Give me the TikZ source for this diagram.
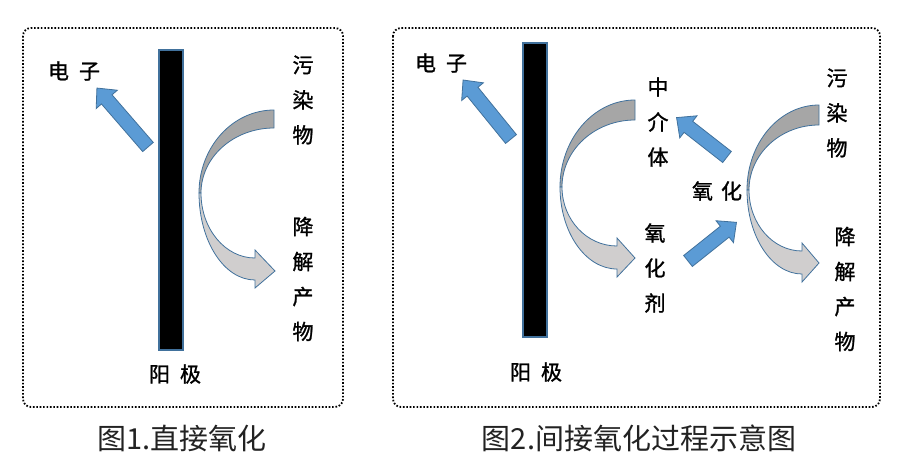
\documentclass[tikz,border=0pt]{standalone}
\usepackage{fontspec}
\newfontfamily\cjk{Noto Sans CJK SC}
\newfontfamily\cjkb{Noto Sans CJK SC}[FakeBold=1.2]
\definecolor{bluefill}{HTML}{5B9BD5}
\definecolor{blueline}{HTML}{41719C}
\definecolor{graytop}{HTML}{A6A6A6}
\definecolor{graybot}{HTML}{D0CECE}
\definecolor{captxt}{HTML}{222222}
\tikzset{
  lbl/.style={font=\cjkb\fontsize{21}{35}\selectfont, align=center, inner sep=0pt},
  capt/.style={font=\cjk\fontsize{29}{29}\selectfont, text=captxt, inner sep=0pt},
  panel/.style={draw=black, line width=1.8pt, dash pattern=on 1.6pt off 1.8pt, rounded corners=8pt},
  electrode/.style={fill=black, draw=blueline, line width=1.5pt},
  bluearr/.style={fill=bluefill, draw=blueline, line width=0.8pt, line join=miter},
  topband/.style={fill=graytop, draw=blueline, line width=0.8pt},
  botband/.style={fill=graybot, draw=blueline, line width=0.8pt, line join=miter},
}
\newcommand\blockarr[4]{%
  \begin{scope}[shift={(#1,#2)},rotate=#3]
    \draw[bluearr] (0,-7) -- (#4-15,-7) -- (#4-15,-14) -- (#4,0) -- (#4-15,14) -- (#4-15,7) -- (0,7) -- cycle;
  \end{scope}}
\begin{document}
\begin{tikzpicture}[x=1pt, y={(0pt,-1pt)}]
\useasboundingbox (0,0) rectangle (909,468);
% panels
\draw[panel] (23,28) rectangle (343,407);
\draw[panel] (393,28) rectangle (880,407);
% ---------- panel 1 ----------
\draw[electrode] (159,50) rectangle (183,350);
\blockarr{148}{147}{130.9}{78}
\draw[topband] (274,110) arc[start angle=270,end angle=180,x radius=75,y radius=83]
  -- (201,193) arc[start angle=180,end angle=270,x radius=73,y radius=65] -- cycle;
\draw[botband] (199,193) arc[start angle=180,end angle=90,x radius=56,y radius=87]
  -- (255,288) -- (275,271) -- (255,250) -- (255,258)
  arc[start angle=90,end angle=180,x radius=54,y radius=65] -- cycle;
\node[lbl] (e1) at (74,71) {电\hspace{10pt}子};
\node[lbl] (a1) at (175,374) {阳\hspace{10pt}极};
\node[lbl] (p1) at (303,100) {污\\染\\物};
\node[lbl] (d1) at (303,279) {降\\解\\产\\物};
% ---------- panel 2 ----------
\draw[electrode] (523,43) rectangle (547,337);
\blockarr{511}{139}{129.1}{76}
\blockarr{727}{157}{142}{64}
\blockarr{688}{261}{38.6}{62}
\draw[topband] (635,100) arc[start angle=270,end angle=180,x radius=75,y radius=87]
  -- (562,187) arc[start angle=180,end angle=270,x radius=73,y radius=67] -- cycle;
\draw[botband] (560,187) arc[start angle=180,end angle=90,x radius=57,y radius=82]
  -- (617,277) -- (635,258) -- (617,238) -- (617,246)
  arc[start angle=90,end angle=180,x radius=55,y radius=59] -- cycle;
\draw[topband] (819,105) arc[start angle=270,end angle=180,x radius=72,y radius=85]
  -- (749,190) arc[start angle=180,end angle=270,x radius=70,y radius=65] -- cycle;
\draw[botband] (747,190) arc[start angle=180,end angle=90,x radius=55,y radius=84]
  -- (802,282) -- (819,263) -- (802,243) -- (802,251)
  arc[start angle=90,end angle=180,x radius=53,y radius=61] -- cycle;
\node[lbl] (e2) at (441,63) {电\hspace{10pt}子};
\node[lbl] (a2) at (536,372) {阳\hspace{10pt}极};
\node[lbl] (m2) at (658,122) {中\\介\\体};
\node[lbl] (o2) at (655,268) {氧\\化\\剂};
\node[lbl] (x2) at (717,191) {氧\hspace{8pt}化};
\node[lbl] (p2) at (837,113) {污\\染\\物};
\node[lbl] (d2) at (845,289) {降\\解\\产\\物};
% captions
\node[capt] (c1) at (182,438) {图1.直接氧化};
\node[capt] (c2) at (639,438) {图2.间接氧化过程示意图};
\end{tikzpicture}
\end{document}
